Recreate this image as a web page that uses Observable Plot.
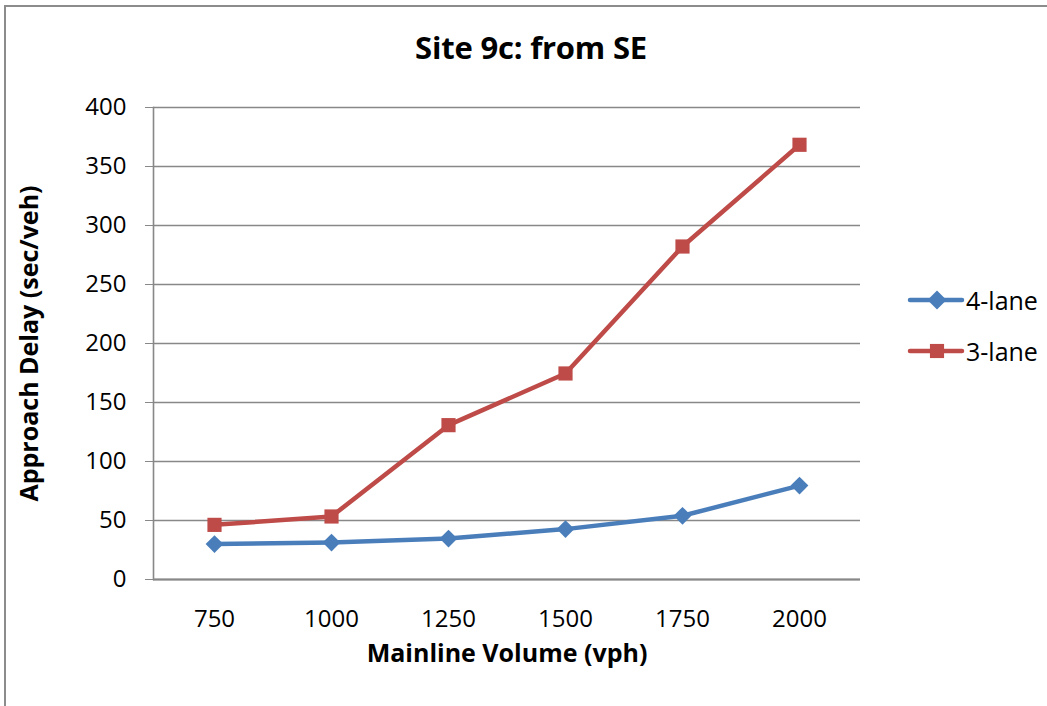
<!DOCTYPE html>
<html>
<head>
<meta charset="utf-8">
<script src="https://cdn.jsdelivr.net/npm/d3@7"></script>
<script src="https://cdn.jsdelivr.net/npm/@observablehq/plot@0.6"></script>
<style>
  html, body { margin: 0; padding: 0; background: white; overflow: hidden; }
  #wrap { position: relative; width: 1047px; height: 706px; font-family: "Open Sans", Lato, sans-serif; }
  #border { position: absolute; left: 4px; top: 5px; width: 1100px; height: 800px; border: 2px solid #8c8c8c; box-sizing: border-box; pointer-events: none; }
  #chart { position: absolute; left: 0; top: 0; }
  #title { position: absolute; left: 0; width: 1062px; top: 32px; line-height: 1; text-align: center; font-weight: bold; font-size: 31px; letter-spacing: -0.2px; color: #000; }
  #legend { position: absolute; left: 907px; top: 284px; font-size: 25px; color: #000; }
  .item { display: flex; align-items: center; height: 32px; margin-bottom: 19px; }
  .item svg { margin-right: 1px; }
  g[aria-label="y-axis label"] text, g[aria-label="x-axis label"] text { font-weight: bold; font-size: 25px; }
</style>
</head>
<body>
<div id="wrap">
  <div id="chart"></div>
  <div id="title">Site 9c: from SE</div>
  <div id="legend"></div>
  <div id="border"></div>
</div>
<script>
const volumes = ["750", "1000", "1250", "1500", "1750", "2000"];
const delay4lane = [30, 31.3, 34.7, 42.7, 54, 79.6];
const delay3lane = [46.3, 53.4, 130.8, 174.6, 282.2, 368.4];
const seriesNames = ["4-lane", "3-lane"];
const seriesColors = ["#4a7ebb", "#be4b48"];
const seriesSymbols = ["diamond2", "square"];
const yTicks = [0, 50, 100, 150, 200, 250, 300, 350, 400];

const rows = [];
volumes.forEach((v, i) => {
  rows.push({volume: v, delay: delay4lane[i], series: seriesNames[0]});
  rows.push({volume: v, delay: delay3lane[i], series: seriesNames[1]});
});

const chart = Plot.plot({
  width: 1047,
  height: 706,
  marginTop: 107,
  marginBottom: 127,
  marginLeft: 153,
  marginRight: 187,
  style: {background: "transparent", fontFamily: "'Open Sans', Lato, sans-serif", fontSize: "24px", color: "#000"},
  x: {type: "point", domain: volumes, padding: 0.5},
  y: {domain: [0, 400]},
  color: {domain: seriesNames, range: seriesColors},
  symbol: {domain: seriesNames, range: seriesSymbols},
  marks: [
    Plot.gridY(yTicks, {stroke: "#888", strokeOpacity: 1, strokeWidth: 1.6}),
    Plot.frame({anchor: "left", stroke: "#888", strokeWidth: 1.6}),
    Plot.ruleY([0], {stroke: "#888", strokeWidth: 2}),
    Plot.axisY({ticks: yTicks, tickSize: 8, tickPadding: 19, stroke: "#888", fill: "#000", fontSize: 24,
      label: "Approach Delay (sec/veh)", labelAnchor: "center", labelArrow: "none", labelOffset: 133}),
    Plot.axisX({tickSize: 0, tickPadding: 30, fill: "#000", fontSize: 24,
      label: "Mainline Volume (vph)", labelAnchor: "center", labelArrow: "none", labelOffset: 82}),
    Plot.line(rows, {x: "volume", y: "delay", z: "series", stroke: "series", strokeWidth: 4.5}),
    Plot.dot(rows, {x: "volume", y: "delay", fill: "series", symbol: "series", r: 8, stroke: "none"})
  ]
});
document.getElementById("chart").appendChild(chart);

// legend
const legend = document.getElementById("legend");
seriesNames.forEach((name, i) => {
  const item = document.createElement("div");
  item.className = "item";
  const sym = d3.symbol(seriesSymbols[i] === "square" ? d3.symbolSquare : d3.symbolDiamond2, seriesSymbols[i] === "square" ? 200 : 230)();
  item.innerHTML = `<svg width="58" height="24"><line x1="3" x2="55" y1="12" y2="12" stroke="${seriesColors[i]}" stroke-width="4.5" stroke-linecap="round"/><path d="${sym}" transform="translate(30,12)" fill="${seriesColors[i]}"/></svg><span>${name}</span>`;
  legend.appendChild(item);
});
</script>
</body>
</html>
